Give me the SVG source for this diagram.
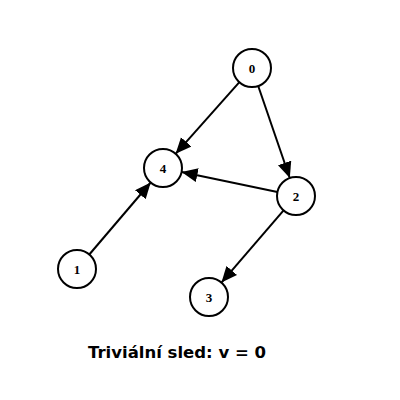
<svg xmlns="http://www.w3.org/2000/svg" width="400" height="400" viewBox="0 0 400 400">
<style>
.node circle{fill:#fff;stroke:#000;stroke-width:2}
.node text{font-family:"Liberation Serif",serif;font-weight:bold;font-size:13px;text-anchor:middle;dominant-baseline:central;fill:#000}
.edge{stroke:#000;stroke-width:2;fill:none;marker-end:url(#arr)}
.caption{font-family:"DejaVu Sans",sans-serif;font-weight:bold;font-size:16.5px;text-anchor:middle;fill:#000}
</style>
<defs>
<marker id="arr" markerUnits="userSpaceOnUse" markerWidth="17" markerHeight="15" refX="16" refY="7" orient="auto">
<path d="M0,0 L16,7 L0,14 z" fill="#000"/>
</marker>
</defs>
<rect width="400" height="400" fill="#fff"/>
<g id="connectors">
<line class="edge" x1="239.4" y1="82.2" x2="175.6" y2="153.8"/>
<line class="edge" x1="258.2" y1="86" x2="289.8" y2="178"/>
<line class="edge" x1="277.4" y1="192.1" x2="181.6" y2="171.9"/>
<line class="edge" x1="89.3" y1="254.5" x2="150.7" y2="182.5"/>
<line class="edge" x1="283.6" y1="210.4" x2="221.4" y2="282.6"/>
</g>
<g id="node0" class="node"><circle cx="252" cy="68" r="19"/><text x="252" y="68">0</text></g>
<g id="node4" class="node"><circle cx="163" cy="168" r="19"/><text x="163" y="168">4</text></g>
<g id="node2" class="node"><circle cx="296" cy="196" r="19"/><text x="296" y="196">2</text></g>
<g id="node1" class="node"><circle cx="77" cy="269" r="19"/><text x="77" y="269">1</text></g>
<g id="node3" class="node"><circle cx="209" cy="297" r="19"/><text x="209" y="297">3</text></g>
<text class="caption" x="177" y="358">Triviální sled: v = 0</text>
</svg>
